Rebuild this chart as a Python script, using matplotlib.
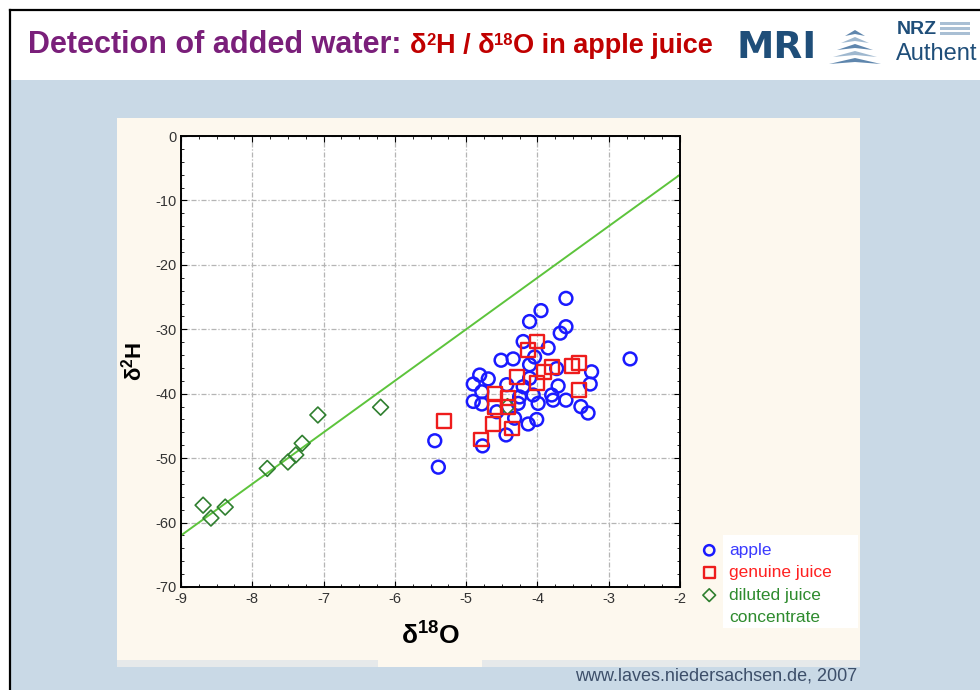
import matplotlib
matplotlib.use("Agg")
import matplotlib.pyplot as plt
from matplotlib.patches import Rectangle, Polygon
from matplotlib.lines import Line2D
from matplotlib.ticker import MultipleLocator

plt.rcParams["axes.unicode_minus"] = False
plt.rcParams["font.family"] = ["Liberation Sans", "DejaVu Sans"]
plt.rcParams["mathtext.default"] = "regular"

# data (delta 18O, delta 2H)
apple_o = [-3.60, -3.95, -4.11, -3.60, -3.68, -4.20, -3.85, -4.04, -4.51, -4.34,
           -4.11, -2.70, -3.73, -3.24, -4.81, -4.69, -4.90, -3.26, -3.71, -4.11,
           -4.43, -4.20, -4.78, -4.25, -4.06, -3.80, -4.90, -4.78, -4.27, -3.99,
           -3.78, -3.60, -3.39, -3.29, -4.57, -4.32, -4.01, -4.13, -4.44, -4.77,
           -5.44, -5.39]
apple_h = [-25.2, -27.1, -28.8, -29.6, -30.6, -31.9, -32.9, -34.3, -34.8, -34.6,
           -35.5, -34.6, -36.1, -36.6, -37.1, -37.7, -38.5, -38.5, -38.8, -37.6,
           -38.6, -38.9, -39.7, -40.5, -40.2, -40.2, -41.2, -41.6, -41.5, -41.5,
           -41.0, -41.0, -42.0, -43.0, -42.8, -43.8, -44.0, -44.7, -46.4, -48.1,
           -47.3, -51.4]

genuine_o = [-4.01, -4.13, -3.80, -3.52, -3.42, -3.91, -4.29, -4.01, -3.42, -4.60,
             -4.41, -4.60, -4.41, -4.62, -4.36, -4.79, -5.31]
genuine_h = [-31.9, -33.2, -35.8, -35.7, -35.3, -36.6, -37.4, -38.3, -39.4, -40.0,
             -40.7, -42.0, -42.0, -44.7, -45.4, -47.1, -44.2]

diluted_o = [-8.69, -8.58, -8.38, -7.79, -7.50, -7.39, -7.30, -7.08, -6.20, -4.42]
diluted_h = [-57.3, -59.3, -57.6, -51.6, -50.6, -49.5, -47.7, -43.3, -42.1, -42.0]

gmwl_o = [-9, -2]
gmwl_h = [-62, -6]

x_ticks = [-9, -8, -7, -6, -5, -4, -3, -2]
y_ticks = [0, -10, -20, -30, -40, -50, -60, -70]

W, H = 980, 690


def fx(p):
    return p / W


def fy(p):
    return 1 - p / H


fig = plt.figure(figsize=(9.8, 6.9), dpi=100)
fig.patch.set_facecolor("white")

# slide background
fig.patches.append(Rectangle((fx(10), fy(690)), 1, fy(80) - fy(690),
                             transform=fig.transFigure, facecolor="#c9d9e6",
                             edgecolor="none", zorder=-10))
fig.add_artist(Line2D([fx(10), 1], [fy(10), fy(10)], color="black", lw=1.6,
                      transform=fig.transFigure))
fig.add_artist(Line2D([fx(10), fx(10)], [fy(10), 0], color="black", lw=1.6,
                      transform=fig.transFigure))
# chart panel
fig.patches.append(Rectangle((fx(117), fy(660)), fx(860 - 117), fy(118) - fy(660),
                             transform=fig.transFigure, facecolor="#fdf8ee",
                             edgecolor="none", zorder=-9))
fig.patches.append(Rectangle((fx(117), fy(667)), fx(860 - 117), fy(660) - fy(667),
                             transform=fig.transFigure, facecolor="#e6e9ea",
                             edgecolor="none", zorder=-9))
fig.patches.append(Rectangle((fx(378), fy(667)), fx(482 - 378), fy(655) - fy(667),
                             transform=fig.transFigure, facecolor="#fdf8ee",
                             edgecolor="none", zorder=-8))
# white legend box
fig.patches.append(Rectangle((fx(723), fy(628)), fx(858 - 723), fy(535) - fy(628),
                             transform=fig.transFigure, facecolor="white",
                             edgecolor="none", zorder=-7))

# title, written piece by piece so the superscripts stay small
title_parts = [("Detection of added water: ", "#7a1f7a", 22, 0),
               ("δ", "#c00000", 19.5, 0), ("2", "#c00000", 12, 8),
               ("H / δ", "#c00000", 19.5, 0), ("18", "#c00000", 12, 8),
               ("O in apple juice", "#c00000", 19.5, 0)]
x_cur = 28
fig.canvas.draw()
renderer = fig.canvas.get_renderer()
for txt, col, size, rise in title_parts:
    t = fig.text(fx(x_cur), fy(53 - rise), txt, color=col, fontsize=size,
                 fontweight="bold", va="baseline")
    x_cur = t.get_window_extent(renderer).x1

fig.text(fx(736), fy(48), "MRI", color="#1f4e79", fontsize=27,
         fontweight="bold", family=["DejaVu Sans"], va="center")
# little stacked logo
for i in range(5):
    y0 = 64 - i * 7
    w = 26 - i * 4
    fig.patches.append(Polygon([(fx(855 - w), fy(y0)), (fx(855), fy(y0 - 6)),
                                (fx(855 + w), fy(y0)), (fx(855), fy(y0 - 2))],
                               closed=True, transform=fig.transFigure,
                               facecolor="#9fb8cf" if i % 2 else "#5f86ad",
                               edgecolor="none"))
fig.text(fx(897), fy(30), "NRZ", color="#1f4e79", fontsize=14, fontweight="bold",
         va="center")
for i in range(3):
    fig.patches.append(Rectangle((fx(940), fy(25 + i * 5)), fx(30), 3 / H,
                                 transform=fig.transFigure, facecolor="#a9bfd4",
                                 edgecolor="none"))
fig.text(fx(896), fy(54), "Authent", color="#1f4e79", fontsize=17, va="center")

fig.text(fx(857), fy(676), "www.laves.niedersachsen.de, 2007", color="#3d4f6a",
         fontsize=13, ha="right", va="center")

ax = fig.add_axes([fx(181), fy(587), fx(680 - 181), fy(136) - fy(587)])
ax.set_facecolor("white")
ax.set_xlim(-9, -2)
ax.set_ylim(-70, 0)
ax.set_xticks(x_ticks)
ax.set_yticks(y_ticks)
ax.xaxis.set_minor_locator(MultipleLocator(0.25))
ax.yaxis.set_minor_locator(MultipleLocator(2))
ax.tick_params(which="both", direction="in", top=True, right=True,
               labelsize=10.5, labelcolor="#333333")
ax.tick_params(which="major", length=4)
ax.tick_params(which="minor", length=2.5)
for s in ax.spines.values():
    s.set_linewidth(1.4)
ax.grid(True, which="major", color="#b5b5b5", linestyle=(0, (4, 1.5, 1, 1.5)),
        linewidth=0.9)
ax.set_axisbelow(True)

ax.plot(gmwl_o, gmwl_h, color="#5dc43c", lw=1.4, zorder=2)
h_apple = ax.scatter(apple_o, apple_h, s=85, marker="o", facecolors="none",
                     edgecolors="#1a1aff", linewidths=1.8, zorder=3)
h_gen = ax.scatter(genuine_o, genuine_h, s=100, marker="s", facecolors="none",
                   edgecolors="#ee1c1c", linewidths=1.7, zorder=4)
h_dil = ax.scatter(diluted_o, diluted_h, s=65, marker="D", facecolors="none",
                   edgecolors="#2f7f2f", linewidths=1.2, zorder=3)

ax.set_xlabel(r"δ$^{18}$O", fontsize=19, fontweight="bold", labelpad=12)
ax.set_ylabel(r"δ$^{2}$H", fontsize=16, fontweight="bold", labelpad=6)

blank = Line2D([], [], linestyle="none", marker="none")
leg = fig.legend([h_apple, h_gen, h_dil, blank],
                 ["apple", "genuine juice", "diluted juice", "concentrate"],
                 loc="upper left", bbox_to_anchor=(fx(691), fy(534)),
                 frameon=False, handletextpad=0.6, markerscale=0.8,
                 labelspacing=0.42, borderpad=0, handlelength=1.1,
                 labelcolor=["#3b3bff", "#ff2020", "#2e8b2e", "#2e8b2e"],
                 prop={"size": 12.5})

fig.savefig("out.png", dpi=100, facecolor=fig.get_facecolor())
